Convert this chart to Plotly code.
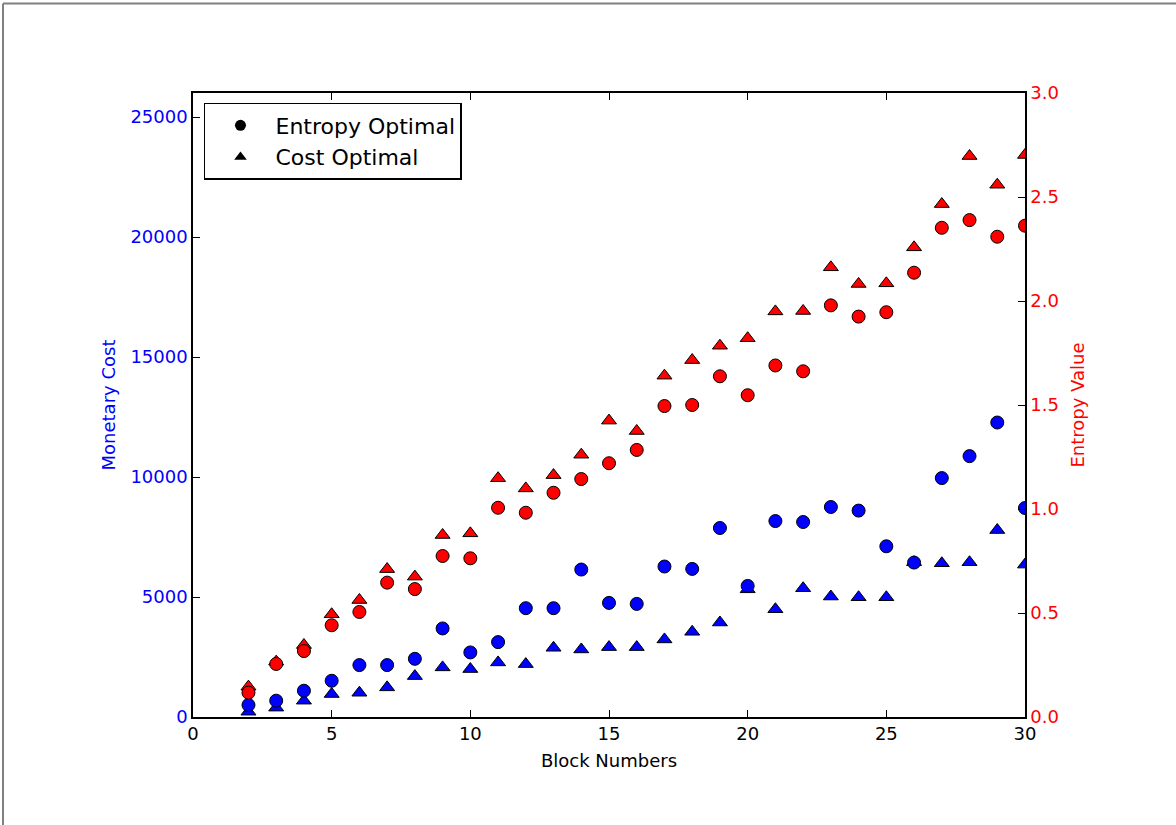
import plotly.graph_objects as go

blocks = list(range(2, 31))

cost_entropy_opt = [500, 680, 1095, 1510, 2163, 2163, 2425, 3690, 2691, 3120,
                    4534, 4534, 6144, 4755, 4713, 6270, 6170, 7875, 5462, 8165,
                    8125, 8750, 8600, 7113, 6435, 9955, 10870, 12270, 8708]
cost_cost_opt = [220, 390, 680, 957, 1011, 1235, 1705, 2067, 1997, 2274,
                 2205, 2884, 2815, 2912, 2912, 3232, 3550, 3938, 5320, 4490,
                 5366, 5020, 4990, 4990, 6450, 6406, 6448, 7790, 6350]
entropy_entropy_opt = [0.117, 0.255, 0.317, 0.441, 0.505, 0.646, 0.615, 0.774, 0.763, 1.006,
                       0.982, 1.078, 1.144, 1.22, 1.284, 1.495, 1.5, 1.638, 1.547, 1.69,
                       1.662, 1.979, 1.925, 1.946, 2.136, 2.352, 2.389, 2.309, 2.362]
entropy_cost_opt = [0.146, 0.266, 0.346, 0.494, 0.5625, 0.711, 0.675, 0.875, 0.883, 1.148,
                    1.099, 1.163, 1.261, 1.425, 1.375, 1.641, 1.716, 1.785, 1.821, 1.95,
                    1.952, 2.162, 2.082, 2.085, 2.258, 2.466, 2.697, 2.559, 2.702]

x_ticks = [0, 5, 10, 15, 20, 25, 30]
cost_ticks = [0, 5000, 10000, 15000, 20000, 25000]
entropy_ticks = [0.0, 0.5, 1.0, 1.5, 2.0, 2.5, 3.0]

BLUE = "#0000ff"
RED = "#ff0000"
FONT = "DejaVu Sans"
msize = 13
tsize = 13
edge = dict(color="black", width=1)

fig = go.Figure()

fig.add_trace(go.Scatter(x=blocks, y=cost_cost_opt, mode="markers", showlegend=False,
                         marker=dict(symbol="triangle-up", size=tsize, color=BLUE, line=edge)))
fig.add_trace(go.Scatter(x=blocks, y=cost_entropy_opt, mode="markers", showlegend=False,
                         marker=dict(symbol="circle", size=msize, color=BLUE, line=edge)))
fig.add_trace(go.Scatter(x=blocks, y=entropy_cost_opt, mode="markers", showlegend=False, yaxis="y2",
                         marker=dict(symbol="triangle-up", size=tsize, color=RED, line=edge)))
fig.add_trace(go.Scatter(x=blocks, y=entropy_entropy_opt, mode="markers", showlegend=False, yaxis="y2",
                         marker=dict(symbol="circle", size=msize, color=RED, line=edge)))

# legend entries (black markers)
fig.add_trace(go.Scatter(x=[None], y=[None], mode="markers", name="Entropy Optimal",
                         marker=dict(symbol="circle", size=11, color="black")))
fig.add_trace(go.Scatter(x=[None], y=[None], mode="markers", name="Cost Optimal",
                         marker=dict(symbol="triangle-up", size=11, color="black")))

fig.update_layout(
    width=1176, height=825,
    margin=dict(l=193, r=151, t=93, b=108),
    paper_bgcolor="white", plot_bgcolor="white",
    font=dict(family=FONT, size=18, color="black"),
    xaxis=dict(range=[0, 30], tickvals=x_ticks, ticktext=[str(v) for v in x_ticks],
               ticks="inside", ticklen=7, tickwidth=1, tickcolor="black",
               showline=True, linecolor="black", linewidth=1.5, mirror="ticks",
               showgrid=False, zeroline=False,
               tickfont=dict(family=FONT, size=18, color="black"),
               title=dict(text="Block Numbers", font=dict(family=FONT, size=18, color="black"), standoff=11)),
    yaxis=dict(range=[0, 26000], tickvals=cost_ticks, ticktext=[str(v) for v in cost_ticks],
               ticks="inside", ticklen=7, tickwidth=1, tickcolor="black",
               showline=True, linecolor="black", linewidth=1.5,
               showgrid=False, zeroline=False,
               tickfont=dict(family=FONT, size=18, color=BLUE),
               title=dict(text="Monetary Cost", font=dict(family=FONT, size=18, color=BLUE), standoff=10)),
    yaxis2=dict(range=[0, 3.0], tickvals=entropy_ticks, ticktext=[f"{v:.1f}" for v in entropy_ticks],
                overlaying="y", side="right",
                ticks="inside", ticklen=7, tickwidth=1, tickcolor="black",
                showline=True, linecolor="black", linewidth=1.5,
                showgrid=False, zeroline=False,
                tickfont=dict(family=FONT, size=18, color=RED),
                title=dict(text="Entropy Value", font=dict(family=FONT, size=18, color=RED), standoff=13)),
    legend=dict(x=0.0132, y=0.984, xanchor="left", yanchor="top",
                bgcolor="white", bordercolor="black", borderwidth=1.5,
                font=dict(family=FONT, size=22, color="black"),
                itemwidth=60, tracegroupgap=0),
    showlegend=True,
)

# outer figure frame (gray)
fig.add_shape(type="line", xref="paper", yref="paper",
              x0=(3 - 193) / 832, x1=(3 - 193) / 832, y0=(717 - 3.5) / 624, y1=(717 - 830) / 624,
              line=dict(color="#808080", width=2))
fig.add_shape(type="line", xref="paper", yref="paper",
              x0=(3 - 193) / 832, x1=(1180 - 193) / 832, y0=(717 - 3.5) / 624, y1=(717 - 3.5) / 624,
              line=dict(color="#808080", width=2))

fig.write_html("out.html")
